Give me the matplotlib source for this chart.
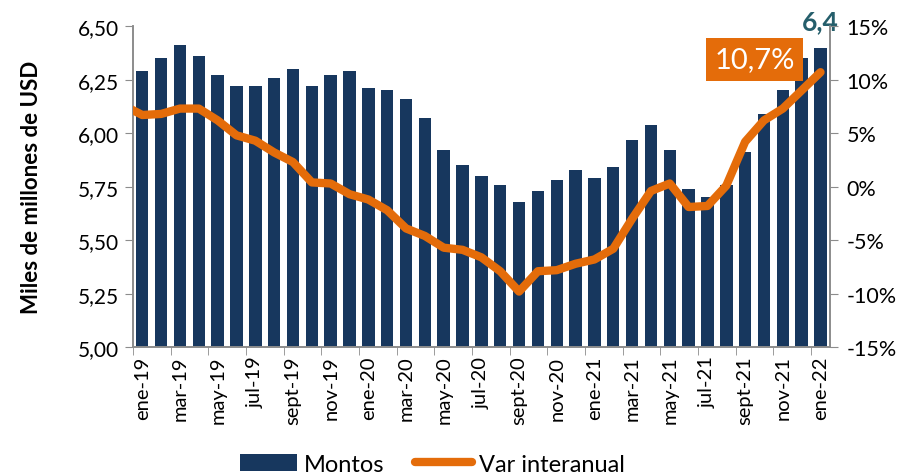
import numpy as np
import matplotlib.pyplot as plt
from matplotlib.patches import Patch
from matplotlib.lines import Line2D

plt.rcParams['font.family'] = ['Lato', 'DejaVu Sans']

# ---------- data ----------
meses = ["ene", "feb", "mar", "abr", "may", "jun", "jul", "ago", "sept", "oct", "nov", "dic"]
categorias = [f"{m}-{a}" for a in ("19", "20", "21") for m in meses] + ["ene-22"]

montos = [6.29, 6.35, 6.41, 6.36, 6.27, 6.22, 6.22, 6.26, 6.30, 6.22, 6.27, 6.29,
          6.21, 6.20, 6.16, 6.07, 5.92, 5.85, 5.80, 5.76, 5.68, 5.73, 5.78, 5.83,
          5.79, 5.84, 5.97, 6.04, 5.92, 5.74, 5.70, 5.76, 5.91, 6.09, 6.20, 6.35,
          6.40]

# var interanual (%), first value is dic-18 (only its tail shows at the axis)
var_dic18 = 7.6
var_interanual = [6.7, 6.8, 7.3, 7.3, 6.2, 4.8, 4.3, 3.2, 2.3, 0.4, 0.3, -0.7,
                  -1.2, -2.2, -3.9, -4.6, -5.7, -5.9, -6.6, -7.9, -9.8, -7.9, -7.8, -7.2,
                  -6.8, -5.8, -3.0, -0.4, 0.3, -1.9, -1.8, 0.1, 4.2, 6.2, 7.3, 9.0,
                  10.7]

azul = "#17375E"
naranja = "#E46C0A"
gris = "#8C8C8C"

x = np.arange(len(categorias))

fig = plt.figure(figsize=(9.1, 4.77), dpi=100)
ax = fig.add_axes([0.146, 0.270, 0.766, 0.673])
ax2 = ax.twinx()

ax.bar(x, montos, width=0.66, color=azul, zorder=2)
ax.set_ylim(5.0, 6.5)
ax.set_yticks(np.arange(5.0, 6.51, 0.25))
ax.set_yticklabels([f"{v:.2f}".replace(".", ",") for v in np.arange(5.0, 6.51, 0.25)])

# category labels every two months, tick marks at boundaries
ax.set_xticks(x[::2])
ax.set_xticklabels(categorias[::2], rotation=90)
ax.set_xticks(np.arange(-0.5, len(categorias) - 1, 2), minor=True)
ax.tick_params(axis="x", which="major", length=0, pad=6, labelsize=14.5)
ax.tick_params(axis="x", which="minor", length=6, color=gris)
ax.tick_params(axis="y", length=6, color=gris, labelsize=15, pad=4)
ax.set_ylabel("Miles de millones de USD", fontsize=16, fontweight="bold", labelpad=26)

x_line = np.concatenate([[-1], x])
y_line = [var_dic18] + var_interanual
ax2.plot(x_line, y_line, color=naranja, lw=6, solid_capstyle="round",
         solid_joinstyle="round", zorder=3)
ax2.set_ylim(-15, 15)
ax2.set_yticks(range(-15, 16, 5))
ax2.set_yticklabels([f"{v}%" for v in range(-15, 16, 5)])
ax2.tick_params(axis="y", length=6, color=gris, labelsize=15.5, pad=6)
ax.set_xlim(-0.5, len(categorias) - 0.5)

for a in (ax, ax2):
    a.spines["top"].set_visible(False)
    for s in ("left", "right", "bottom"):
        a.spines[s].set_color(gris)
        a.spines[s].set_linewidth(1.2)

# annotations
ax2.text(x[-1] - 3.5, 11.9, "10,7%", color="white", fontsize=21, ha="center",
         va="center", bbox=dict(boxstyle="square,pad=0.3", fc=naranja, ec="none"))
ax.text(x[-1], 6.485, "6,4", color="#255E6B", fontsize=19, fontweight="bold",
        ha="center", va="baseline")

handles = [Patch(facecolor=azul, edgecolor="none", label="Montos"),
           Line2D([0], [0], color=naranja, lw=6, solid_capstyle="round",
                  label="Var interanual")]
fig.legend(handles=handles, loc="center", bbox_to_anchor=(0.475, 0.025), ncol=2,
           frameon=False, fontsize=17, handlelength=2.4, handleheight=0.7,
           columnspacing=1.3, handletextpad=0.3)

fig.savefig("out.png", dpi=100)
